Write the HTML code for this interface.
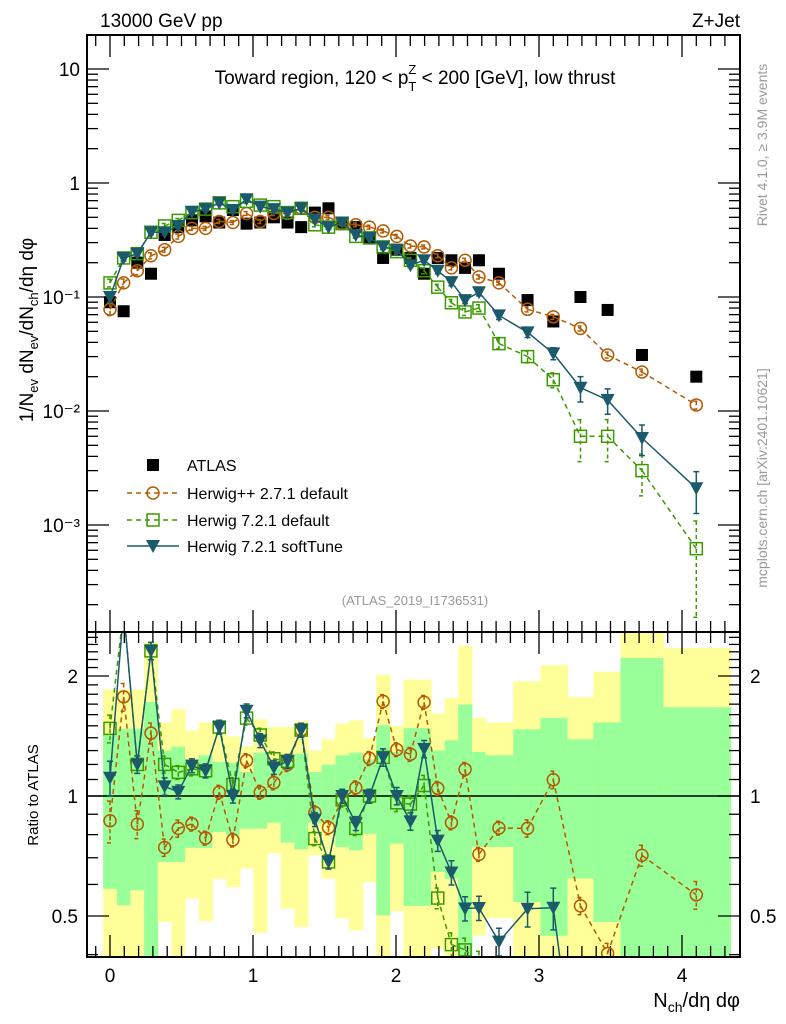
<!DOCTYPE html>
<html><head><meta charset="utf-8"><style>
html,body{margin:0;padding:0;background:#fff;width:786px;height:1024px;overflow:hidden}
svg{display:block;font-family:"Liberation Sans",sans-serif}
</style></head><body>
<svg id="c" width="786" height="1024" viewBox="0 0 786 1024">
<defs>
<clipPath id="cm"><rect x="87" y="35" width="653" height="597"/></clipPath>
<clipPath id="cr"><rect x="87" y="632" width="653" height="325"/></clipPath>
</defs>
<g id="bands" clip-path="url(#cr)"></g>
<g id="grid"></g>
<g id="mainSeries" clip-path="url(#cm)"></g>
<g id="ratSeries" clip-path="url(#cr)"></g>
<rect x="87" y="35" width="653" height="597" fill="none" stroke="#000" stroke-width="2"/>
<rect x="87" y="632" width="653" height="325" fill="none" stroke="#000" stroke-width="2"/>
<text x="100" y="27" font-size="19">13000 GeV pp</text>
<text x="740" y="27" font-size="19" text-anchor="end">Z+Jet</text>
<text x="415" y="84" font-size="19" text-anchor="middle">Toward region, 120 &lt; p<tspan font-size="13" dy="7">T</tspan><tspan font-size="13" dx="-8" dy="-17">Z</tspan><tspan dy="10"> &lt; 200 [GeV], low thrust</tspan></text>
<text x="415" y="605" font-size="13" fill="#999" text-anchor="middle">(ATLAS_2019_I1736531)</text>
<text transform="translate(33,330) rotate(-90)" font-size="19" text-anchor="middle">1/N<tspan font-size="13" dy="5">ev</tspan><tspan dy="-5"> dN</tspan><tspan font-size="13" dy="5">ev</tspan><tspan dy="-5">/dN</tspan><tspan font-size="13" dy="5">ch</tspan><tspan dy="-5">/dη dφ</tspan></text>
<text transform="translate(38,795) rotate(-90)" font-size="15" text-anchor="middle">Ratio to ATLAS</text>
<text x="740" y="1007" font-size="20" text-anchor="end">N<tspan font-size="14" dy="5">ch</tspan><tspan dy="-5">/dη dφ</tspan></text>
<text transform="translate(767,145) rotate(-90)" font-size="14" fill="#999" text-anchor="middle">Rivet 4.1.0, ≥ 3.9M events</text>
<text transform="translate(767,478) rotate(-90)" font-size="14" fill="#999" text-anchor="middle">mcplots.cern.ch [arXiv:2401.10621]</text>
<g id="legend"></g>
</svg>
<script>
const xVals=[0,0.0955,0.191,0.2865,0.382,0.4775,0.573,0.6685,0.764,0.8595,0.955,1.0505,1.146,1.2415,1.337,1.4325,1.528,1.6235,1.719,1.8145,1.91,2.0055,2.101,2.1965,2.292,2.3875,2.483,2.58,2.72,2.92,3.10,3.29,3.48,3.72,4.10];
const binEdges=[-0.048,0.048,0.143,0.239,0.334,0.430,0.525,0.621,0.716,0.812,0.907,1.003,1.098,1.194,1.289,1.385,1.480,1.576,1.671,1.767,1.862,1.958,2.053,2.149,2.244,2.340,2.435,2.531,2.626,2.82,3.01,3.2,3.38,3.57,3.87,4.34];
const atlas=[0.090,0.075,0.20,0.16,0.35,0.41,0.47,0.51,0.45,0.58,0.44,0.45,0.50,0.45,0.41,0.55,0.60,0.45,0.41,0.33,0.22,0.26,0.22,0.16,0.22,0.21,0.18,0.21,0.16,0.094,0.061,0.10,0.077,0.031,0.020];
const herwigPP=[0.078,0.133,0.17,0.23,0.26,0.34,0.40,0.40,0.46,0.45,0.54,0.46,0.54,0.54,0.60,0.50,0.50,0.44,0.43,0.41,0.38,0.34,0.28,0.275,0.23,0.18,0.21,0.15,0.133,0.078,0.067,0.053,0.031,0.022,0.0113];
const herwig7=[0.133,0.22,0.24,0.37,0.42,0.47,0.55,0.59,0.67,0.62,0.69,0.64,0.62,0.55,0.60,0.43,0.41,0.44,0.34,0.33,0.275,0.25,0.21,0.17,0.122,0.089,0.074,0.080,0.039,0.030,0.0188,0.0060,0.0060,0.0030,0.00062];
const softTune=[0.10,0.22,0.24,0.37,0.37,0.42,0.56,0.59,0.67,0.58,0.72,0.62,0.59,0.55,0.60,0.48,0.41,0.45,0.35,0.33,0.275,0.26,0.19,0.21,0.17,0.135,0.094,0.11,0.069,0.049,0.032,0.016,0.0125,0.0058,0.0021];
const errPP=[0.12,0.08,0.08,0.06,0.05,0.05,0.04,0.04,0.04,0.04,0.04,0.04,0.04,0.04,0.04,0.04,0.04,0.04,0.04,0.04,0.04,0.04,0.04,0.04,0.04,0.04,0.04,0.04,0.04,0.05,0.05,0.05,0.06,0.06,0.08];
const err7=[0.08,0.06,0.05,0.05,0.05,0.04,0.04,0.04,0.04,0.04,0.04,0.04,0.04,0.04,0.04,0.04,0.04,0.04,0.04,0.04,0.05,0.05,0.05,0.06,0.06,0.07,0.07,0.07,0.1,0.12,0.15,0.4,0.4,0.4,0.75];
const errST=[0.1,0.06,0.05,0.05,0.05,0.04,0.04,0.04,0.04,0.04,0.04,0.04,0.04,0.04,0.04,0.04,0.04,0.04,0.04,0.04,0.05,0.05,0.05,0.05,0.06,0.07,0.07,0.07,0.08,0.1,0.12,0.25,0.25,0.3,0.4];
const yellowHi=[1.85,1.85,1.85,2.43,1.53,1.65,1.46,1.53,1.45,1.41,1.335,1.557,1.49,1.49,1.54,1.30,1.387,1.518,1.548,1.398,2.015,1.498,1.96,1.96,1.61,1.76,2.38,1.57,1.53,1.94,2.13,1.77,2.05,3,2.35];
const greenHi=[1.43,1.475,1.475,1.72,1.30,1.33,1.205,1.265,1.217,1.21,1.149,1.284,1.205,1.205,1.277,1.149,1.198,1.265,1.284,1.236,1.505,1.289,1.48,1.48,1.30,1.38,1.695,1.289,1.265,1.47,1.57,1.387,1.53,2.22,1.67];
const greenLo=[0.585,0.532,0.58,0.3,0.683,0.683,0.741,0.741,0.812,0.797,0.828,0.828,0.857,0.764,0.735,0.857,0.857,0.745,0.731,0.804,0.502,0.759,0.53,0.53,0.645,0.62,0.3,0.745,0.745,0.542,0.446,0.621,0.483,0.3,0.3];
const yellowLo=[0.3,0.3,0.3,0.3,0.483,0.3,0.553,0.485,0.62,0.591,0.657,0.454,0.717,0.522,0.469,0.71,0.62,0.494,0.46,0.609,0.3,0.514,0.3,0.3,0.414,0.3,0.3,0.447,0.494,0.3,0.3,0.3,0.3,0.3,0.3];
const mainTickVals=[0.001,0.01,0.1,1,10];
const mainTickLabels=["10\u207B\u00B3","10\u207B\u00B2","10\u207B\u00B9","1","10"];
const ratioTickVals=[0.5,1,2];
const ratioTickLabels=["0.5","1","2"];
const xTickVals=[0,1,2,3,4];
const xTickLabels=["0","1","2","3","4"];

const NS="http://www.w3.org/2000/svg";
const X=v=>110+v*143;
const YM=v=>183-114*Math.log10(v);
const YR=r=>796-120*Math.log2(r);
const RT=632,RB=957,MT=35,MB=632;
function mk(tag,attrs,parent){const e=document.createElementNS(NS,tag);for(const k in attrs)e.setAttribute(k,attrs[k]);parent.appendChild(e);return e;}
const bands=document.getElementById('bands'),grid=document.getElementById('grid'),ms=document.getElementById('mainSeries'),rs=document.getElementById('ratSeries'),lg=document.getElementById('legend');
const clampY=(y,t,b)=>Math.max(t,Math.min(b,y));
function clipSegs(pts,t,b){
  let d='';
  for(let i=0;i<pts.length-1;i++){
    let [x1,y1]=pts[i],[x2,y2]=pts[i+1];
    if((y1<t&&y2<t)||(y1>b&&y2>b))continue;
    const f=(y)=>x1+(x2-x1)*(y-y1)/(y2-y1);
    if(y1<t){x1=f(t);y1=t;} else if(y1>b){x1=f(b);y1=b;}
    if(y2<t){x2=x1+(pts[i+1][0]-pts[i][0])*0; }
    let X2=pts[i+1][0],Y2=pts[i+1][1];
    const g=(y)=>pts[i][0]+(pts[i+1][0]-pts[i][0])*(y-pts[i][1])/(pts[i+1][1]-pts[i][1]);
    if(Y2<t){X2=g(t);Y2=t;} else if(Y2>b){X2=g(b);Y2=b;}
    d+=`M${x1.toFixed(1)},${y1.toFixed(1)}L${X2.toFixed(1)},${Y2.toFixed(1)}`;
  }
  return d||'M0,0';
}

for(let i=0;i<xVals.length;i++){
  const x0=X(binEdges[i]),x1=X(binEdges[i+1]);
  const yh=clampY(YR(yellowHi[i]),RT,RB),yl=clampY(YR(yellowLo[i]),RT,RB),gh=clampY(YR(greenHi[i]),RT,RB),gl=clampY(YR(greenLo[i]),RT,RB);
  let r=mk('rect',{x:x0,y:yh,width:x1-x0+0.5,height:yl-yh,fill:'#ffff99'},bands);
  
  
  let g=mk('rect',{x:x0,y:gh,width:x1-x0+0.5,height:gl-gh,fill:'#99ff99'},bands);
  
  
}
mk('line',{x1:87,x2:740,y1:YR(1),y2:YR(1),stroke:'#000','stroke-width':1.5},rs);

for(let d=-4;d<=1;d++){for(let m=1;m<10;m++){const v=m*Math.pow(10,d);const y=YM(v);if(y<36||y>631)continue;const L=m===1?22:11;
  mk('line',{x1:87,x2:87+L,y1:y,y2:y,stroke:'#000','stroke-width':1.3},grid);
  mk('line',{x1:740,x2:740-L,y1:y,y2:y,stroke:'#000','stroke-width':1.3},grid);}}
mainTickVals.forEach((v,i)=>{const t=mk('text',{x:80,y:YM(v)+7,'font-size':19,'text-anchor':'end'},grid);t.textContent=mainTickLabels[i];
  
  });
for(let k=3;k<=25;k++){const r=k/10;const y=YR(r);if(y<633||y>956)continue;const maj=ratioTickVals.includes(r);const L=maj?22:11;
  mk('line',{x1:87,x2:87+L,y1:y,y2:y,stroke:'#000','stroke-width':1.3},grid);
  mk('line',{x1:740,x2:740-L,y1:y,y2:y,stroke:'#000','stroke-width':1.3},grid);}
ratioTickVals.forEach((v,i)=>{let t=mk('text',{x:78,y:YR(v)+7,'font-size':19,'text-anchor':'end'},grid);t.textContent=ratioTickLabels[i];
  
  
  t=mk('text',{x:750,y:YR(v)+7,'font-size':19},grid);t.textContent=ratioTickLabels[i];
  
  });
for(let k=-1;k<=44;k++){const x=X(k/10);if(x<88||x>739)continue;const maj=k%10===0;const L=maj?22:11;
  [[35,1],[632,-1],[632,1],[957,-1]].forEach(([y,s])=>mk('line',{x1:x,x2:x,y1:y,y2:y+s*L,stroke:'#000','stroke-width':1.3},grid));}
xTickVals.forEach((v,i)=>{const t=mk('text',{x:X(v),y:982,'font-size':19,'text-anchor':'middle'},grid);t.textContent=xTickLabels[i];
  
  });

function marker(kind,x,y,col,parent){
  let m;
  if(kind==='sq')m=mk('rect',{x:x-6,y:y-6,width:12,height:12,fill:'#000'},parent);
  else if(kind==='circ')m=mk('circle',{cx:x,cy:y,r:6,fill:'none',stroke:col,'stroke-width':1.5},parent);
  else if(kind==='osq')m=mk('rect',{x:x-6,y:y-6,width:12,height:12,fill:'none',stroke:col,'stroke-width':1.5},parent);
  else m=mk('path',{d:`M${x-7},${y-6}L${x+7},${y-6}L${x},${y+7}Z`,fill:col},parent);
  return m;
}
const series=[
 {vals:herwigPP,err:errPP,col:'#b35a00',kind:'circ',dash:'5,4',name:'herwigpp-2-7-1'},
 {vals:herwig7,err:err7,col:'#3a9a00',kind:'osq',dash:'5,4',name:'herwig-7-2-1-default'},
 {vals:softTune,err:errST,col:'#1a5a6b',kind:'tri',dash:'',name:'herwig-7-2-1-softtune'}];
atlas.forEach((v,i)=>{const m=marker('sq',X(xVals[i]),YM(v),'#000',ms);
  
  });
series.forEach(s=>{
  const pm=s.vals.map((v,i)=>[X(xVals[i]),YM(v)]);
  const pr=s.vals.map((v,i)=>[X(xVals[i]),YR(v/atlas[i])]);
  [[pm,ms,v=>YM(v),(i)=>s.vals[i],MT,MB],[pr,rs,v=>YR(v),(i)=>s.vals[i]/atlas[i],RT,RB]].forEach(([pts,par,yf,val,T,B],pi)=>{
    const l=mk('path',{d:clipSegs(pts,T,B),fill:'none',stroke:s.col,'stroke-width':1.5},par);
    if(s.dash)l.setAttribute('stroke-dasharray',s.dash);
    
    
    pts.forEach((p,i)=>{const v=val(i);const e=s.err[i];
      if(p[1]<T-8||p[1]>B+8)return;
      const y1=clampY(yf(v*(1+e)),T,B),y2=clampY(yf(Math.max(v*(1-e),1e-6)),T,B);
      const eb=mk('path',{d:`M${p[0]},${y1}L${p[0]},${y2}M${p[0]-3},${y1}L${p[0]+3},${y1}M${p[0]-3},${y2}L${p[0]+3},${y2}`,stroke:s.col,'stroke-width':1.5,fill:'none'},par);
      if(s.dash)eb.setAttribute('stroke-dasharray','4,3');
      const m=marker(s.kind,p[0],p[1],s.col,par);
      
      
    });
  });
});
const legItems=[{t:'ATLAS',kind:'sq',col:'#000',dash:null},{t:'Herwig++ 2.7.1 default',kind:'circ',col:'#b35a00',dash:'5,4'},{t:'Herwig 7.2.1 default',kind:'osq',col:'#3a9a00',dash:'5,4'},{t:'Herwig 7.2.1 softTune',kind:'tri',col:'#1a5a6b',dash:''}];
const legY=[465,493,520,546];
legItems.forEach((it,i)=>{const y=legY[i];
  if(it.dash!==null){const l=mk('line',{x1:127,x2:179,y1:y,y2:y,stroke:it.col,'stroke-width':1.5},lg);if(it.dash)l.setAttribute('stroke-dasharray',it.dash);}
  const m=marker(it.kind,153,y,it.col,lg);
  
  
  const t=mk('text',{x:187,y:y+6,'font-size':16},lg);t.textContent=it.t;
  
  });
</script>
</body></html>
